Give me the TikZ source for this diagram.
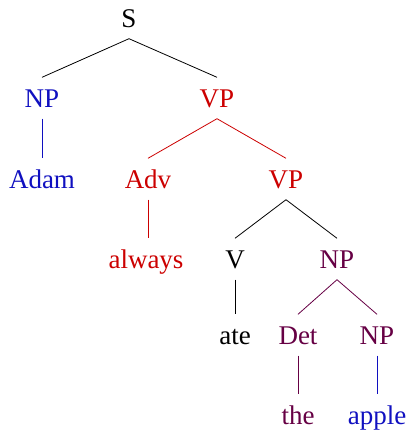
\documentclass[tikz,border=0pt]{standalone}
\usepackage{fontspec}
\setmainfont{Liberation Serif}
\definecolor{tblue}{HTML}{1010C0}
\definecolor{tred}{HTML}{CC0000}
\definecolor{tpurple}{HTML}{660044}
\begin{document}
\begin{tikzpicture}[x=1pt,y=-1pt,
  lab/.style={anchor=base,inner xsep=0pt,inner ysep=11.5pt,text height=18pt,text depth=0pt,font=\fontsize{27}{32}\selectfont},
  br/.style={line width=0.8pt}]
\useasboundingbox (0,0) rectangle (411,434);
\node[lab] (S) at (129,27) {S};
\node[lab,tblue] (NP) at (42,107) {NP};
\node[lab,tred] (VP) at (217,107) {VP};
\node[lab,tblue] (Adam) at (42,188) {Adam};
\node[lab,tred] (Adv) at (148,188) {Adv};
\node[lab,tred] (VP2) at (286,188) {VP};
\node[lab,tred] (always) at (146,268) {always};
\node[lab] (V) at (235,268) {V};
\node[lab,tpurple] (NP2) at (337,268) {NP};
\node[lab] (ate) at (235,344) {ate};
\node[lab,tpurple] (Det) at (298,344) {Det};
\node[lab,tpurple] (NP3) at (377,344) {NP};
\node[lab,tpurple] (the) at (298,424) {the};
\node[lab,tblue] (apple) at (377,424) {apple};
\draw[br] (S.south) -- (NP.north);
\draw[br] (S.south) -- (VP.north);
\draw[br,tblue] (NP.south) -- (Adam.north);
\draw[br,tred] (VP.south) -- (Adv.north);
\draw[br,tred] (VP.south) -- (VP2.north);
\draw[br,tred] (Adv.south) -- (Adv.south |- always.north);
\draw[br] (VP2.south) -- (V.north);
\draw[br] (VP2.south) -- (NP2.north);
\draw[br] (V.south) -- (ate.north);
\draw[br,tpurple] (NP2.south) -- (Det.north);
\draw[br,tpurple] (NP2.south) -- (NP3.north);
\draw[br,tpurple] (Det.south) -- (the.north);
\draw[br,tblue] (NP3.south) -- (apple.north);
\end{tikzpicture}
\end{document}
